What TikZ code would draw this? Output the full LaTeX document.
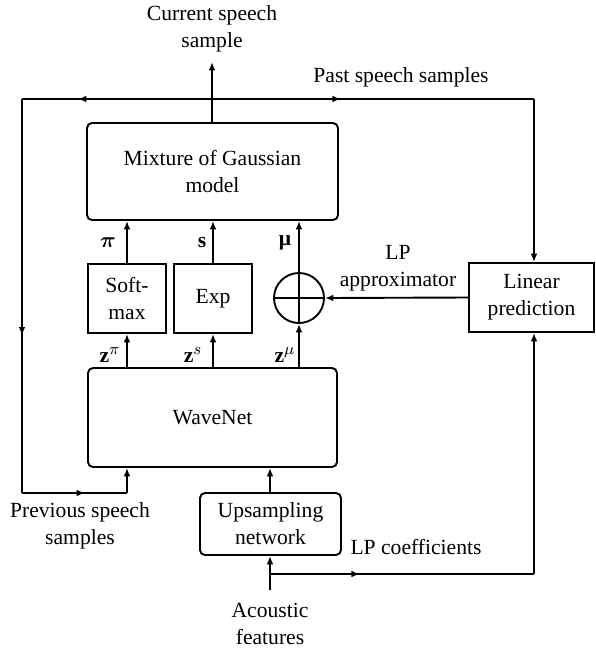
\documentclass[tikz,border=0pt]{standalone}
\usepackage{amsmath,amssymb}
\usepackage{fontspec}
\setmainfont{Liberation Serif}
\usetikzlibrary{arrows.meta,decorations.markings,calc}

\begin{document}
\begin{tikzpicture}[x=0.5pt,y=-0.5pt,line width=0.95pt,
        every node/.style={font=\fontsize{10.8}{13.5}\selectfont,align=center},
        rbox/.style={draw=black,rounded corners=2.5pt,inner sep=0pt},
        sbox/.style={draw=black,inner sep=0pt},
        arr/.style={-{Latex[length=4.2pt,width=3.4pt]}},
        midarr/.style={postaction={decorate,decoration={markings,
            mark=at position #1 with {\arrow{Latex[length=4.2pt,width=3.4pt]}}}}}]
        \useasboundingbox (0,0) rectangle (596,650);
        % blocks
        \node[rbox,minimum width=125.5pt,minimum height=48.5pt] (mix) at (212.5,171.5){Mixture of Gaussian\\model};
        \node[sbox,minimum width=39pt,minimum height=34.5pt] (soft) at (127,298.5){Soft-\\max};
        \node[sbox,minimum width=39pt,minimum height=34.5pt] (expo) at (213,298.5){Exp};
        \node[circle,draw=black,minimum size=25pt,inner sep=0pt] (sum) at (299,298){};
        \node[sbox,minimum width=62.5pt,minimum height=34.5pt] (lp) at (531.5,297.5){Linear\\prediction};
        \node[rbox,minimum width=124.5pt,minimum height=49.5pt] (wave) at (212.5,417.5){WaveNet};
        \node[rbox,minimum width=70.5pt,minimum height=31pt] (ups) at (270.5,524){Upsampling\\network};
        % labels
        \node (curr) at (212,28.5){Current speech\\sample};
        \node (past) at (401,77){Past speech samples};
        \node (prev) at (80,525.5){Previous speech\\samples};
        \node (lpco) at (416,547){LP coefficients};
        \node (acou) at (270,623.5){Acoustic\\features};
        \node (lpapx) at (398,268.5){LP\\approximator};
        \node (lpi) at (108,243){$\boldsymbol{\pi}$};
        \node (ls) at (202,243){$\mathbf{s}$};
        \node (lmu) at (285,243){\bfseries μ};
        \node (lzpi) at (110,355){$\mathbf{z}^{\pi}$};
        \node (lzs) at (193,355){$\mathbf{z}^{s}$};
        \node (lzmu) at (285,355){$\mathbf{z}^{\mu}$};
        % corner points
        \coordinate (out) at (212,62);
        \coordinate (jtop) at (212,99);
        \coordinate (tl) at (22,99);
        \coordinate (bl) at (22,493);
        \coordinate (bli) at (127,493);
        \coordinate (tr) at (534,99);
        \coordinate (jbot) at (270,574);
        \coordinate (br) at (534,574);
        \coordinate (ain) at (270,590);
        % connectors
        \draw[arr] (jtop |- mix.north) -- (out);
        \draw[midarr=0.705] (jtop) -- (tl);
        \draw[midarr=0.6] (tl) -- (bl);
        \draw[midarr=0.6] (bl) -- (bli);
        \draw[arr] (bli) -- (bli |- wave.south);
        \draw[midarr=0.4] (jtop) -- (tr);
        \draw[arr] (tr) -- (tr |- lp.north);
        \draw[arr] (soft.north) -- (soft.north |- mix.south);
        \draw[arr] (expo.north) -- (expo.north |- mix.south);
        \draw[arr] (sum.north) -- (sum.north |- mix.south);
        \draw[arr] (soft.south |- wave.north) -- (soft.south);
        \draw[arr] (expo.south |- wave.north) -- (expo.south);
        \draw[arr] (sum.south |- wave.north) -- (sum.south);
        \draw (sum.north) -- (sum.south);
        \draw (sum.west) -- (sum.east);
        \draw[arr] (lp.west) -- (sum.east);
        \draw[arr] (ups.north -| ain) -- (ain |- wave.south);
        \draw[arr] (ain) -- (ain |- ups.south);
        \draw[midarr=0.34] (jbot) -- (br);
        \draw[arr] (br) -- (br |- lp.south);
\end{tikzpicture}
\end{document}
